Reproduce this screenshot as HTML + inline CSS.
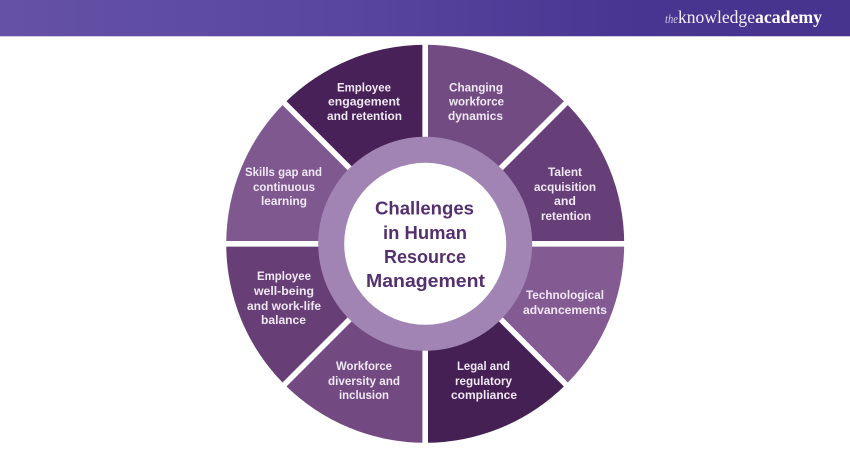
<!DOCTYPE html>
<html><head><meta charset="utf-8"><style>html,body{margin:0;padding:0;background:#fff;width:850px;height:450px;overflow:hidden}svg{display:block}
.l{font:bold 11.5px "Liberation Sans",sans-serif;fill:#efe8f2}
.c{font:bold 18.5px "Liberation Sans",sans-serif;fill:#55306f}
</style></head><body>
<svg width="850" height="450" viewBox="0 0 850 450" xmlns="http://www.w3.org/2000/svg">
<defs><linearGradient id="h" x1="0" x2="1" y1="0" y2="0"><stop offset="0" stop-color="#6552a6"/><stop offset=".4" stop-color="#5946a0"/><stop offset=".75" stop-color="#483591"/><stop offset="1" stop-color="#46348e"/></linearGradient></defs>
<rect width="850" height="36" fill="url(#h)"/>
<rect y="36" width="850" height="1" fill="#cfc8e2"/>
<text x="665" y="23" font-family="Liberation Serif,serif" font-style="italic" font-size="13" fill="#cfc6e4" textLength="13" lengthAdjust="spacingAndGlyphs">the</text>
<text x="678" y="23" font-family="Liberation Serif,serif" font-size="18" fill="#f4f1f9" textLength="77" lengthAdjust="spacingAndGlyphs">knowledge</text>
<text x="755" y="23" font-family="Liberation Serif,serif" font-weight="bold" font-size="18" fill="#fff" textLength="67" lengthAdjust="spacingAndGlyphs">academy</text>

<g transform="translate(425.2 243.8)">
<path d="M0 0V-199A199 199 0 0 1 140.7 -140.7Z" fill="#734b83"/>
<path d="M0 0L140.7 -140.7A199 199 0 0 1 199 0Z" fill="#673f78"/>
<path d="M0 0H199A199 199 0 0 1 140.7 140.7Z" fill="#835a92"/>
<path d="M0 0L140.7 140.7A199 199 0 0 1 0 199Z" fill="#452054"/>
<path d="M0 0V199A199 199 0 0 1 -140.7 140.7Z" fill="#724a81"/>
<path d="M0 0L-140.7 140.7A199 199 0 0 1 -199 0Z" fill="#673e76"/>
<path d="M0 0H-199A199 199 0 0 1 -140.7 -140.7Z" fill="#7f5890"/>
<path d="M0 0L-140.7 -140.7A199 199 0 0 1 0 -199Z" fill="#472157"/>
<g stroke="#fff" stroke-width="5.6">
<line x1="0" y1="-205" x2="0" y2="205"/>
<line x1="-205" y1="0" x2="205" y2="0"/>
<line x1="-145" y1="-145" x2="145" y2="145"/>
<line x1="-145" y1="145" x2="145" y2="-145"/>
</g>
<circle r="107" fill="#a284b4"/>
<circle r="81" fill="#fff"/>
</g>

<g class="l" text-anchor="start">
<text class="l" x="337" y="91.5" textLength="54" lengthAdjust="spacingAndGlyphs">Employee</text>
<text class="l" x="328" y="105.5" textLength="72" lengthAdjust="spacingAndGlyphs">engagement</text>
<text class="l" x="327" y="120" textLength="75" lengthAdjust="spacingAndGlyphs">and retention</text>

<text class="l" x="245" y="176" textLength="77" lengthAdjust="spacingAndGlyphs">Skills gap and</text>
<text class="l" x="253" y="191" textLength="62" lengthAdjust="spacingAndGlyphs">continuous</text>
<text class="l" x="261" y="205" textLength="46" lengthAdjust="spacingAndGlyphs">learning</text>

<text class="l" x="449" y="91.5" textLength="54" lengthAdjust="spacingAndGlyphs">Changing</text>
<text class="l" x="449" y="105.5" textLength="55" lengthAdjust="spacingAndGlyphs">workforce</text>
<text class="l" x="448" y="120" textLength="55" lengthAdjust="spacingAndGlyphs">dynamics</text>

<text class="l" x="548" y="176" textLength="34" lengthAdjust="spacingAndGlyphs">Talent</text>
<text class="l" x="534" y="191" textLength="62" lengthAdjust="spacingAndGlyphs">acquisition</text>
<text class="l" x="554" y="205" textLength="22" lengthAdjust="spacingAndGlyphs">and</text>
<text class="l" x="541" y="220" textLength="50" lengthAdjust="spacingAndGlyphs">retention</text>

<text class="l" x="526" y="299" textLength="78" lengthAdjust="spacingAndGlyphs">Technological</text>
<text class="l" x="523" y="314" textLength="84" lengthAdjust="spacingAndGlyphs">advancements</text>

<text class="l" x="457" y="370" textLength="53" lengthAdjust="spacingAndGlyphs">Legal and</text>
<text class="l" x="455" y="385" textLength="57" lengthAdjust="spacingAndGlyphs">regulatory</text>
<text class="l" x="451" y="399" textLength="66" lengthAdjust="spacingAndGlyphs">compliance</text>

<text class="l" x="257" y="280" textLength="54" lengthAdjust="spacingAndGlyphs">Employee</text>
<text class="l" x="254" y="295" textLength="60" lengthAdjust="spacingAndGlyphs">well-being</text>
<text class="l" x="247" y="310" textLength="74" lengthAdjust="spacingAndGlyphs">and work-life</text>
<text class="l" x="261" y="324" textLength="45" lengthAdjust="spacingAndGlyphs">balance</text>

<text class="l" x="336" y="370" textLength="56" lengthAdjust="spacingAndGlyphs">Workforce</text>
<text class="l" x="328" y="385" textLength="72" lengthAdjust="spacingAndGlyphs">diversity and</text>
<text class="l" x="339" y="399" textLength="50" lengthAdjust="spacingAndGlyphs">inclusion</text>
</g>

<text class="c" x="375" y="214.5" textLength="99" lengthAdjust="spacingAndGlyphs">Challenges</text>
<text class="c" x="383" y="239" textLength="84" lengthAdjust="spacingAndGlyphs">in Human</text>
<text class="c" x="384" y="263" textLength="82" lengthAdjust="spacingAndGlyphs">Resource</text>
<text class="c" x="366" y="287" textLength="119" lengthAdjust="spacingAndGlyphs">Management</text>
</svg>
</body></html>
